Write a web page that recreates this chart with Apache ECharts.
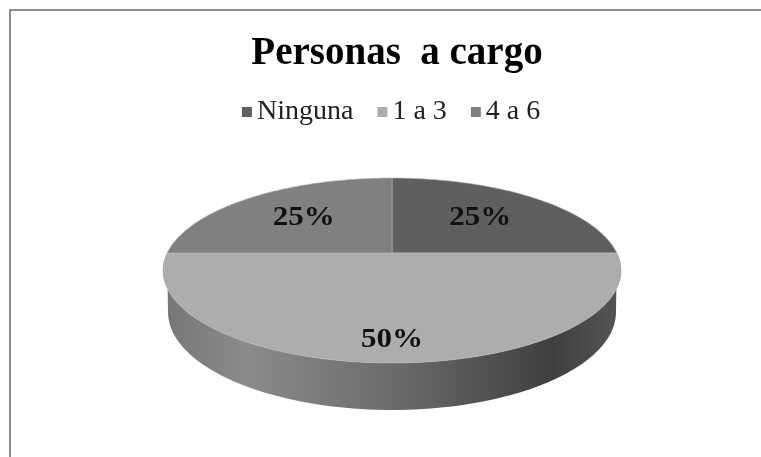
<!DOCTYPE html>
<html>
<head>
<meta charset="utf-8">
<title>Personas a cargo</title>
<script src="https://cdn.jsdelivr.net/npm/echarts@6/dist/echarts.min.js"></script>
<style>
  html, body { margin: 0; padding: 0; background: #fff; }
  #chart { width: 761px; height: 457px; }
</style>
</head>
<body>
<div id="chart"></div>
<script>
const titleText = "Personas  a cargo";
const categories = ["Ninguna", "1 a 3", "4 a 6"];
const percents = [25, 50, 25];
const colors = ["#5f5f5f", "#adadad", "#808080"];

// pie geometry, the top ellipse is seen in perspective so its centre sits above the ellipse middle
const cx = 392, cy = 270.5, rx = 229, ry = 92.5;
const tilt = -0.189;
const bottomCy = 312, bottomRx = 224, bottomRy = 98;
const labelRadius = [0.6, 0.82, 0.6];
const font = '"Liberation Serif", "Times New Roman", serif';

function project(angle, radius) {
  let x = radius * Math.cos(angle);
  let y = radius * Math.sin(angle);
  let d = 1 + tilt * y;
  return [
    cx + rx * x * Math.sqrt(1 - tilt * tilt) / d,
    cy + ry * (y + tilt) / d
  ];
}

function arcPoints(from, to) {
  let pts = [];
  for (let i = 0; i <= 90; i++) {
    pts.push(project(from + (to - from) * i / 90, 1));
  }
  return pts;
}

function toAngle(percent) {
  return -Math.PI / 2 + percent / 100 * Math.PI * 2;
}

function renderSlice(params, api) {
  let start = toAngle(api.value(0));
  let end = toAngle(api.value(0) + api.value(1));
  let mid = (start + end) / 2;
  let pos = project(mid, labelRadius[params.seriesIndex - 1]);
  return {
    type: "group",
    children: [
      {
        type: "polygon",
        shape: { points: [project(0, 0)].concat(arcPoints(start, end)) },
        style: { fill: colors[params.seriesIndex - 1], stroke: "#b9b9b9", lineWidth: 0.6 }
      },
      {
        type: "text",
        x: pos[0],
        y: pos[1],
        scaleX: 1.15,
        style: {
          text: api.value(1) + "%",
          font: "bold 27px " + font,
          fill: "#111",
          textAlign: "center",
          textVerticalAlign: "middle"
        }
      }
    ]
  };
}

// side of the pie, only the front half can be seen
function renderWall() {
  let top = arcPoints(0, Math.PI);
  let bottom = [];
  for (let i = 90; i >= 0; i--) {
    let a = Math.PI * i / 90;
    bottom.push([cx + bottomRx * Math.cos(a), bottomCy + bottomRy * Math.sin(a)]);
  }
  return {
    type: "polygon",
    shape: { points: top.concat(bottom) },
    style: {
      fill: new echarts.graphic.LinearGradient(0, 0, 1, 0, [
        { offset: 0, color: "#767676" },
        { offset: 0.18, color: "#8b8b8b" },
        { offset: 0.5, color: "#6c6c6c" },
        { offset: 0.85, color: "#3f3f3f" },
        { offset: 1, color: "#565656" }
      ])
    }
  };
}

let series = [{
  type: "custom",
  coordinateSystem: "none",
  silent: true,
  z: 1,
  data: [[0]],
  renderItem: renderWall
}];
let sum = 0;
for (let i = 0; i < categories.length; i++) {
  series.push({
    name: categories[i],
    type: "custom",
    coordinateSystem: "none",
    silent: true,
    z: 2,
    itemStyle: { color: colors[i] },
    data: [[sum, percents[i]]],
    renderItem: renderSlice
  });
  sum += percents[i];
}

let myChart = echarts.init(document.getElementById("chart"));
myChart.setOption({
  animation: false,
  backgroundColor: "#fff",
  title: {
    text: titleText,
    left: 392,
    textAlign: "center",
    top: 29,
    textStyle: { fontFamily: font, fontWeight: "bold", fontSize: 39, color: "#000" }
  },
  legend: {
    data: categories,
    left: 237,
    top: 93,
    icon: "rect",
    itemWidth: 10,
    itemHeight: 10,
    itemGap: 24,
    textStyle: { fontFamily: font, fontSize: 28, color: "#222" }
  },
  graphic: [
    { type: "rect", shape: { x: 9, y: 9, width: 752, height: 2 }, style: { fill: "#8c8c8c" } },
    { type: "rect", shape: { x: 9, y: 9, width: 2, height: 448 }, style: { fill: "#8c8c8c" } }
  ],
  series: series
});
</script>
</body>
</html>
